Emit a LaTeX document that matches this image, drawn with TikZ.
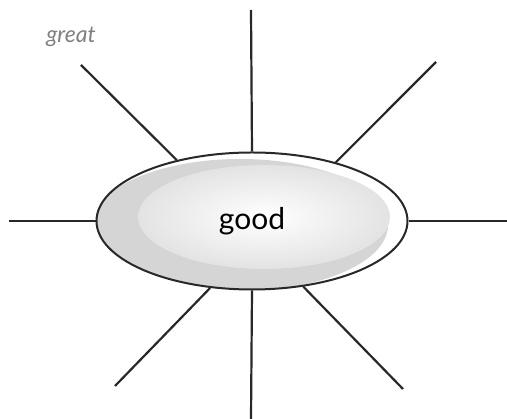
\documentclass[tikz,border=0pt]{standalone}
\usepackage{fontspec}
\setmainfont{Lato}
\usetikzlibrary{shapes.geometric, positioning}
\definecolor{spokegray}{RGB}{40, 40, 40}

\begin{document}
\begin{tikzpicture}[
    x=1pt, y=1pt,
    hub/.style={ellipse, draw=spokegray, line width=2pt, fill=white, inner sep=0pt,
        minimum width=311pt, minimum height=137pt, font=\fontsize{30}{32}\selectfont,
        path picture={
            \fill[gray!33] ([xshift=-12pt, yshift=-4pt]path picture bounding box.center) ellipse [x radius=148pt, y radius=66pt];
            \shade[inner color=white, outer color=gray!22] ([xshift=12pt, yshift=4pt]path picture bounding box.center) ellipse [x radius=126pt, y radius=52pt];
        }},
    spoke/.style={line width=2.2pt, color=spokegray},
    note/.style={font=\itshape\fontsize{23}{24}\selectfont, text=gray}
]
\useasboundingbox (0,0) rectangle (507,419);

\node[hub] (good) at (252,198) {good};

\coordinate (top) at (251,409);
\coordinate (upleft) at (81,354);
\coordinate (upright) at (436,357);
\coordinate (left) at (9,198);
\coordinate (right) at (507,198);
\coordinate (downleft) at (115,33);
\coordinate (bottom) at (251,0);
\coordinate (downright) at (403,30);

\node[note] (great) at (71,382) {great};

\draw[spoke] (good.north) -- (top);
\draw[spoke] (good.141) -- (upleft);
\draw[spoke] (good.35) -- (upright);
\draw[spoke] (good.west) -- (left);
\draw[spoke] (good.east) -- (right);
\draw[spoke] (good.238) -- (downleft);
\draw[spoke] (good.south) -- (bottom);
\draw[spoke] (good.308) -- (downright);

\end{tikzpicture}
\end{document}
